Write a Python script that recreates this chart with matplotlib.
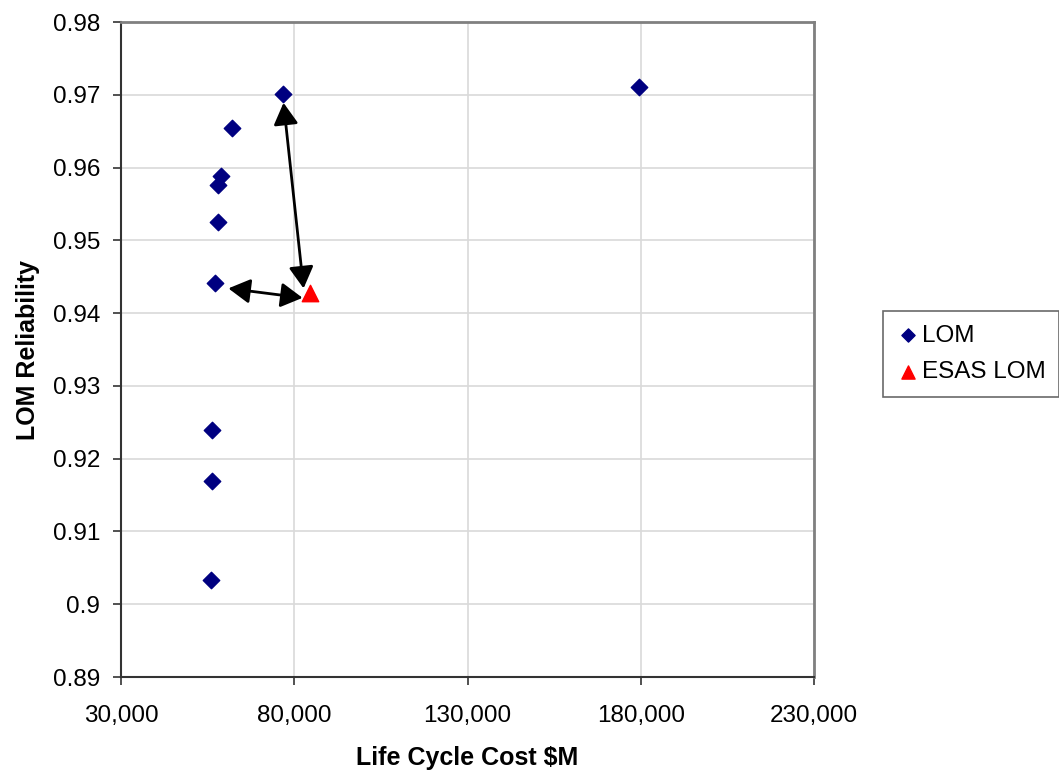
import matplotlib.pyplot as plt
from matplotlib.ticker import FuncFormatter

plt.rcParams["font.family"] = ["Liberation Sans", "DejaVu Sans"]

# LOM points (life cycle cost $M, reliability)
lom_cost = [56049, 56338, 56338, 57207, 58075, 58075, 58943, 62127, 76599, 179349]
lom_rel = [0.9033, 0.9170, 0.9239, 0.9441, 0.9525, 0.9576, 0.9588, 0.9654, 0.9701, 0.9711]

# ESAS point
esas_cost = [84414]
esas_rel = [0.9427]

# arrows: (start, end) in data coords
arrows = [
    ((82677, 0.9434), (76889, 0.9689)),
    ((82388, 0.9421), (60970, 0.9434)),
]

fig = plt.figure(figsize=(10.59, 7.78), dpi=100)
ax = fig.add_axes([0.1143, 0.1298, 0.6544, 0.8419])

ax.scatter(lom_cost, lom_rel, marker="D", s=70, color="#000080", label="LOM", zorder=3)
ax.scatter(esas_cost, esas_rel, marker="^", s=140, color="#ff0000", label="ESAS LOM", zorder=3)

for (x0, y0), (x1, y1) in arrows:
    ax.annotate("", xy=(x1, y1), xytext=(x0, y0),
                arrowprops=dict(arrowstyle="<|-|>,head_length=0.6,head_width=0.34",
                                color="black", lw=2, mutation_scale=22,
                                shrinkA=0, shrinkB=0),
                zorder=4)

ax.set_xlim(30000, 230000)
ax.set_ylim(0.89, 0.98)
ax.set_xticks([30000, 80000, 130000, 180000, 230000])
ax.set_yticks([0.89, 0.90, 0.91, 0.92, 0.93, 0.94, 0.95, 0.96, 0.97, 0.98])
ax.xaxis.set_major_formatter(FuncFormatter(lambda v, p: f"{v:,.0f}"))
ax.yaxis.set_major_formatter(FuncFormatter(lambda v, p: "0.9" if abs(v - 0.9) < 1e-9 else f"{v:.2f}"))

ax.grid(True, color="#d9d9d9", lw=1.2)
ax.set_axisbelow(True)
ax.tick_params(direction="out", length=6, width=1.2, color="#333333", labelsize=17.5)
ax.tick_params(axis="y", pad=9)
ax.tick_params(axis="x", pad=14)

for side in ["left", "bottom"]:
    ax.spines[side].set_color("#333333")
    ax.spines[side].set_linewidth(1.5)
for side in ["top", "right"]:
    ax.spines[side].set_color("#808080")
    ax.spines[side].set_linewidth(2)

ax.set_xlabel("Life Cycle Cost $M", fontsize=18, fontweight="bold", labelpad=14)
ax.set_ylabel("LOM Reliability", fontsize=18, fontweight="bold", labelpad=9)

leg = ax.legend(loc="center left", bbox_to_anchor=(1.10, 0.493), fontsize=17.5, frameon=True,
                fancybox=False, edgecolor="#444444", handletextpad=0.15, borderpad=0.55,
                handlelength=0.9, labelspacing=0.6, borderaxespad=0, scatterpoints=1)
leg.get_frame().set_linewidth(1.2)
leg.legend_handles[0].set_sizes([45])
leg.legend_handles[1].set_sizes([90])

fig.savefig("out.png", dpi=100)
